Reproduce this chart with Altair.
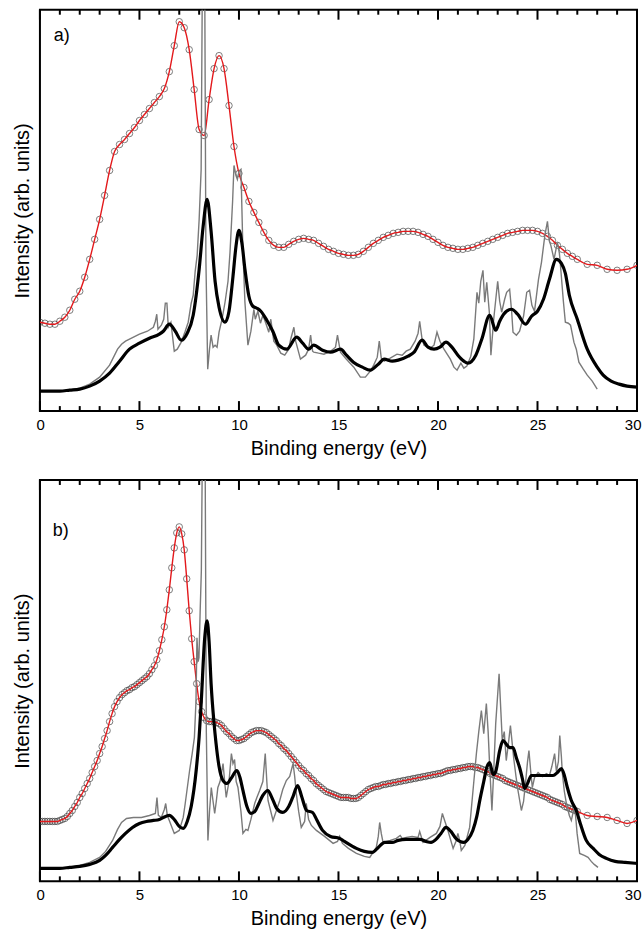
import altair as alt
import pandas as pd

FONT = "Liberation Sans"

# ---------------- data (intensity in arbitrary units) ----------------
major_ticks = [0, 5, 10, 15, 20, 25, 30]
minor_ticks = [1, 2, 3, 4, 6, 7, 8, 9, 11, 12, 13, 14, 16, 17, 18, 19,
               21, 22, 23, 24, 26, 27, 28, 29]

# panel a: experimental points (circles)
exp_a_e = [0.0, 0.25, 0.5, 0.75, 1.0, 1.25, 1.5, 1.75, 2.0, 2.25, 2.5, 2.75,
           3.0, 3.25, 3.5, 3.75, 4.0, 4.25, 4.5, 4.75, 5.0, 5.25, 5.5, 5.75,
           6.0, 6.25, 6.5, 6.75, 7.0, 7.25, 7.5, 7.75, 8.0, 8.25, 8.5, 8.75,
           9.0, 9.25, 9.5, 9.75, 10.0, 10.25, 10.5, 10.75, 11.0, 11.25, 11.5, 11.75,
           12.0, 12.25, 12.5, 12.75, 13.0, 13.25, 13.5, 13.75, 14.0, 14.25, 14.5, 14.75,
           15.0, 15.25, 15.5, 15.75, 16.0, 16.25, 16.5, 16.75, 17.0, 17.25, 17.5, 17.75,
           18.0, 18.25, 18.5, 18.75, 19.0, 19.25, 19.5, 19.75, 20.0, 20.25, 20.5, 20.75,
           21.0, 21.25, 21.5, 21.75, 22.0, 22.25, 22.5, 22.75, 23.0, 23.25, 23.5, 23.75,
           24.0, 24.25, 24.5, 24.75, 25.0, 25.25, 25.5, 25.75, 26.0, 26.25, 26.5, 26.75,
           27.0, 27.5, 28.0, 28.5, 29.0, 29.5, 30.0]
exp_a = [89, 88, 87, 87, 90, 94, 101, 112, 120, 134, 152, 172,
         192, 216, 241, 260, 267, 272, 278, 284, 291, 297, 303, 309,
         315, 323, 340, 366, 390, 384, 362, 322, 282, 276, 312, 343,
         356, 343, 306, 265, 238, 224, 210, 199, 189, 179, 171, 166,
         164, 164, 167, 170, 172, 173, 172, 171, 168, 165, 162, 160,
         158, 157, 156, 156, 157, 160, 164, 168, 171, 174, 176, 178,
         179, 180, 180, 180, 179, 177, 175, 172, 169, 166, 164, 163,
         162, 162, 163, 164, 166, 168, 170, 172, 174, 176, 178, 179,
         180, 181, 181, 181, 180, 178, 175, 171, 166, 162, 158, 155,
         152, 147, 146, 142, 141, 142, 146]

# panel b: experimental points (circles), denser sampling
exp_b_e = [0.0, 0.125, 0.25, 0.375, 0.5, 0.625, 0.75, 0.875,
           1.0, 1.125, 1.25, 1.375, 1.5, 1.625, 1.75, 1.875,
           2.0, 2.125, 2.25, 2.375, 2.5, 2.625, 2.75, 2.875,
           3.0, 3.125, 3.25, 3.375, 3.5, 3.625, 3.75, 3.875,
           4.0, 4.125, 4.25, 4.375, 4.5, 4.625, 4.75, 4.875,
           5.0, 5.125, 5.25, 5.375, 5.5, 5.625, 5.75, 5.875,
           6.0, 6.125, 6.25, 6.375, 6.5, 6.625, 6.75, 6.875,
           7.0, 7.125, 7.25, 7.375, 7.5, 7.625, 7.75, 7.875,
           8.0, 8.125, 8.25, 8.375, 8.5, 8.625, 8.75, 8.875,
           9.0, 9.125, 9.25, 9.375, 9.5, 9.625, 9.75, 9.875,
           10.0, 10.125, 10.25, 10.375, 10.5, 10.625, 10.75, 10.875,
           11.0, 11.125, 11.25, 11.375, 11.5, 11.625, 11.75, 11.875,
           12.0, 12.125, 12.25, 12.375, 12.5, 12.625, 12.75, 12.875,
           13.0, 13.125, 13.25, 13.375, 13.5, 13.625, 13.75, 13.875,
           14.0, 14.125, 14.25, 14.375, 14.5, 14.625, 14.75, 14.875,
           15.0, 15.125, 15.25, 15.375, 15.5, 15.625, 15.75, 15.875,
           16.0, 16.125, 16.25, 16.375, 16.5, 16.625, 16.75, 16.875,
           17.0, 17.125, 17.25, 17.375, 17.5, 17.625, 17.75, 17.875,
           18.0, 18.125, 18.25, 18.375, 18.5, 18.625, 18.75, 18.875,
           19.0, 19.125, 19.25, 19.375, 19.5, 19.625, 19.75, 19.875,
           20.0, 20.125, 20.25, 20.375, 20.5, 20.625, 20.75, 20.875,
           21.0, 21.125, 21.25, 21.375, 21.5, 21.625, 21.75, 21.875,
           22.0, 22.125, 22.25, 22.375, 22.5, 22.625, 22.75, 22.875,
           23.0, 23.125, 23.25, 23.375, 23.5, 23.625, 23.75, 23.875,
           24.0, 24.125, 24.25, 24.375, 24.5, 24.625, 24.75, 24.875,
           25.0, 25.125, 25.25, 25.375, 25.5, 25.625, 25.75, 25.875,
           26.0, 26.125, 26.25, 26.375, 26.5, 26.625, 26.75, 26.875,
           27.0, 27.5, 28.0, 28.5, 29.0, 29.5, 30.0]
exp_b = [60, 60, 60, 60, 60, 60, 60, 60,
         61, 62, 63, 65, 68, 71, 75, 79,
         84, 88, 93, 98, 103, 109, 115, 121,
         128, 135, 143, 151, 160, 168, 175, 180,
         184, 187, 189, 191, 192, 194, 195, 197,
         199, 201, 203, 205, 208, 212, 216, 222,
         231, 242, 255, 272, 292, 314, 334, 349,
         355, 348, 332, 303, 271, 243, 220, 198,
         180, 170, 164, 161, 160, 160, 160, 159,
         158, 156, 153, 150, 148, 145, 143, 141,
         141, 142, 143, 145, 147, 149, 150, 151,
         151, 151, 150, 149, 147, 145, 143, 141,
         138, 136, 133, 131, 128, 125, 122, 119,
         116, 113, 111, 108, 106, 103, 101, 98,
         96, 94, 92, 90, 89, 88, 87, 86,
         85, 84, 84, 84, 84, 83, 83, 83,
         84, 86, 88, 90, 92, 93, 94, 95,
         95, 96, 97, 97, 98, 98, 99, 99,
         100, 100, 101, 101, 102, 102, 103, 103,
         104, 104, 105, 105, 106, 106, 107, 107,
         108, 108, 109, 110, 111, 111, 112, 112,
         113, 113, 114, 114, 115, 115, 115, 114,
         114, 113, 112, 111, 110, 108, 107, 106,
         105, 104, 103, 101, 100, 99, 98, 97,
         96, 95, 94, 93, 92, 91, 90, 89,
         88, 87, 86, 85, 84, 82, 81, 80,
         79, 78, 77, 75, 74, 73, 72, 71,
         70, 66, 65, 64, 61, 58, 61]

# broadened calculation (thick black)
black_a_e = [0, 1.0, 1.5, 2.0, 2.5, 3.0, 3.5, 4.0, 4.5, 5.0, 5.5, 6.0, 6.2, 6.5, 6.8, 7.1,
             7.4, 7.7, 8.0, 8.2, 8.4, 8.6, 8.8, 9.0, 9.3, 9.5, 9.7, 9.85, 10.0, 10.15, 10.3,
             10.5, 10.7, 10.9, 11.1, 11.4, 11.7, 12.0, 12.4, 12.9, 13.2, 13.5, 13.75, 14.2,
             14.6, 15.1, 15.4, 15.75, 16.2, 16.6, 17.0, 17.3, 17.7, 18.0, 18.5, 18.8, 19.2,
             19.5, 19.8, 20.1, 20.4, 20.7, 21.0, 21.3, 21.5, 21.9, 22.2, 22.6, 22.9, 23.1,
             23.3, 23.7, 24.0, 24.4, 24.7, 25.0, 25.3, 25.6, 25.95, 26.2, 26.4, 26.6, 27.0,
             27.5, 28.0, 28.3, 28.7, 29.1, 29.5, 30.0]
black_a = [20, 20, 21, 22, 25, 30, 38, 50, 62, 68, 73, 77, 80, 87, 80, 71,
           78, 96, 142, 185, 212, 180, 130, 104, 89, 100, 135, 165, 181, 168, 142,
           115, 105, 103, 100, 91, 80, 66, 62, 74, 68, 62, 66, 61,
           59, 62, 56, 49, 44, 41, 47, 52, 50, 51, 55, 59, 71,
           64, 62, 64, 69, 64, 56, 50, 48, 56, 72, 96, 81, 90,
           97, 102, 97, 87, 95, 100, 112, 132, 152, 148, 138, 116, 92,
           62, 44, 36, 30, 27, 25, 24]

black_b_e = [0, 1.0, 1.5, 2.0, 2.5, 3.0, 3.3, 3.65, 4.0, 4.3, 4.65, 5.0, 5.35, 5.7, 6.0, 6.2,
             6.5, 6.75, 7.0, 7.2, 7.4, 7.6, 7.85, 8.0, 8.1, 8.28, 8.4, 8.5, 8.6, 8.75, 8.85,
             9.0, 9.2, 9.4, 9.6, 9.9, 10.05, 10.2, 10.4, 10.6, 10.8, 11.0, 11.2, 11.45, 11.65,
             11.9, 12.2, 12.5, 12.7, 12.95, 13.15, 13.4, 13.7, 13.9, 14.2, 14.6, 15.06, 15.3,
             15.9, 16.3, 16.7, 17.0, 17.32, 17.7, 18.0, 18.4, 19.1, 19.4, 19.65, 19.9, 20.15,
             20.4, 20.65, 20.9, 21.1, 21.3, 21.5, 21.75, 21.95, 22.1, 22.3, 22.45, 22.6, 22.77,
             22.9, 23.1, 23.27, 23.45, 23.6, 23.77, 23.95, 24.1, 24.25, 24.35, 24.5, 24.69,
             25.0, 25.4, 25.78, 26.0, 26.2, 26.35, 26.5, 26.7, 26.95, 27.15, 27.45, 27.8, 28.1,
             28.46, 28.9, 29.4, 30.0]
black_b = [13, 13, 14, 15, 17, 21, 26, 34, 42, 48, 54, 58, 60, 61, 62, 64,
           66, 62, 55, 53, 60, 75, 111, 145, 178, 244, 261, 240, 198, 158, 138,
           115, 101, 98, 103, 111, 104, 91, 75, 68, 70, 78, 86, 91, 84,
           73, 69, 75, 84, 96, 85, 71, 69, 62, 51, 45, 43, 40,
           33, 30, 29, 34, 39, 39, 41, 42, 42, 40, 39, 42, 48,
           54, 50, 43, 40, 39, 42, 51, 65, 81, 100, 114, 119, 107,
           110, 131, 141, 137, 134, 134, 123, 114, 102, 93, 98, 106,
           106, 106, 106, 109, 113, 106, 94, 81, 71, 58, 41, 33, 27,
           23, 20, 19, 18]

# raw calculation (thin grey)
grey_a_e = [0, 1.0, 1.5, 2.0, 2.5, 3.0, 3.5, 3.9, 4.1, 4.3, 4.6, 5.0, 5.4, 5.7, 5.8, 5.87,
            5.93, 6.1, 6.22, 6.3, 6.38, 6.45, 6.58, 6.75, 6.9, 7.1, 7.3, 7.45, 7.6, 7.7, 7.8,
            7.9, 8.0, 8.1, 8.16, 8.28, 8.34, 8.43, 8.52, 8.6, 8.7, 8.8, 8.9, 9.0, 9.15, 9.3,
            9.45, 9.55, 9.68, 9.75, 9.85, 9.92, 10.0, 10.1, 10.2, 10.3, 10.45, 10.6, 10.75,
            10.82, 10.95, 11.08, 11.2, 11.35, 11.5, 11.6, 11.75, 11.9, 12.1, 12.3, 12.5, 12.6,
            12.76, 12.85, 13.09, 13.35, 13.5, 13.6, 13.7, 13.76, 14.0, 14.27, 14.6, 14.85,
            14.95, 15.1, 15.4, 15.77, 16.1, 16.35, 16.6, 16.77, 16.95, 17.05, 17.15, 17.3,
            17.6, 17.94, 18.2, 18.4, 18.61, 18.85, 19.0, 19.08, 19.2, 19.3, 19.6, 19.8, 19.95,
            20.1, 20.3, 20.62, 20.8, 20.96, 21.15, 21.3, 21.45, 21.65, 21.8, 21.96, 22.05,
            22.15, 22.26, 22.35, 22.45, 22.58, 22.66, 22.8, 22.92, 23.0, 23.1, 23.2, 23.35,
            23.45, 23.6, 23.7, 23.77, 23.94, 24.1, 24.3, 24.46, 24.6, 24.72, 24.85, 25.05,
            25.2, 25.37, 25.5, 25.6, 25.67, 25.83, 26.0, 26.1, 26.17, 26.3, 26.4, 26.55,
            26.66, 26.83, 26.95, 27.08, 27.3, 27.5, 27.75, 28.0]
grey_a = [20, 20, 21, 23, 27, 34, 46, 62, 67, 70, 73, 77, 80, 84, 90, 97,
          82, 86, 92, 108, 108, 84, 89, 60, 62, 69, 80, 89, 108, 116, 140,
          156, 192, 242, 430, 430, 150, 42, 62, 76, 64, 66, 64, 79, 92, 109,
          130, 159, 210, 246, 236, 232, 240, 242, 160, 109, 66, 80, 102,
          92, 100, 88, 96, 88, 79, 92, 70, 66, 58, 56, 62, 72,
          84, 70, 52, 56, 62, 76, 60, 59, 58, 57, 60, 64,
          76, 59, 52, 44, 34, 34, 40, 46, 54, 70, 53, 50,
          53, 57, 56, 60, 62, 70, 78, 90, 72, 66, 63, 66, 79,
          70, 62, 52, 44, 41, 48, 43, 45, 55, 72, 119, 108,
          130, 141, 109, 129, 99, 56, 92, 115, 130, 110, 99, 112,
          119, 122, 100, 79, 76, 80, 95, 119, 121, 106, 100, 132,
          149, 176, 190, 170, 166, 152, 169, 158, 142, 110, 89, 88,
          86, 69, 62, 49, 42, 36, 30, 22]

grey_b_e = [0, 1.0, 1.5, 2.0, 2.5, 3.0, 3.3, 3.65, 3.9, 4.1, 4.35, 4.7, 5.1, 5.5, 5.8, 5.88,
            5.95, 6.1, 6.25, 6.32, 6.4, 6.5, 6.75, 7.0, 7.2, 7.3, 7.52, 7.65, 7.76, 7.84, 7.89,
            7.95, 7.99, 8.05, 8.11, 8.16, 8.3, 8.36, 8.44, 8.52, 8.61, 8.7, 8.78, 8.86, 8.94,
            9.05, 9.2, 9.3, 9.36, 9.5, 9.62, 9.7, 9.78, 9.86, 9.95, 10.1, 10.2, 10.35, 10.45,
            10.6, 10.79, 10.9, 11.04, 11.2, 11.32, 11.4, 11.46, 11.6, 11.71, 11.9, 12.05, 12.2,
            12.38, 12.55, 12.72, 12.8, 12.88, 13.0, 13.13, 13.3, 13.38, 13.5, 13.64, 13.89,
            14.3, 14.73, 14.95, 15.06, 15.2, 15.5, 15.9, 16.3, 16.57, 16.9, 17.0, 17.07, 17.15,
            17.24, 17.6, 17.91, 18.1, 18.2, 18.41, 18.7, 19.0, 19.08, 19.25, 19.6, 19.92, 20.1,
            20.22, 20.35, 20.5, 20.76, 20.9, 21.0, 21.1, 21.17, 21.35, 21.59, 21.76, 21.93,
            22.05, 22.18, 22.3, 22.43, 22.52, 22.6, 22.71, 22.8, 22.9, 23.07, 23.16, 23.23,
            23.33, 23.43, 23.55, 23.64, 23.72, 23.8, 23.92, 24.02, 24.19, 24.3, 24.41, 24.5,
            24.57, 24.66, 24.74, 24.85, 25.03, 25.25, 25.45, 25.6, 25.72, 25.86, 25.95, 26.05,
            26.12, 26.2, 26.25, 26.35, 26.45, 26.6, 26.7, 26.8, 26.87, 26.94, 26.99, 27.12,
            27.35, 27.54, 27.7, 27.85, 28.04]
grey_b = [13, 13, 14, 16, 19, 24, 30, 41, 52, 59, 63, 64, 64, 66, 68, 84,
          66, 64, 72, 78, 66, 61, 48, 51, 64, 78, 111, 128, 144, 180, 244,
          220, 224, 270, 311, 430, 430, 150, 41, 70, 94, 80, 68, 80, 94,
          100, 118, 96, 84, 100, 128, 118, 122, 100, 94, 70, 48, 52, 51,
          62, 78, 84, 91, 100, 128, 100, 81, 70, 61, 72, 81, 92,
          101, 105, 118, 105, 88, 70, 54, 60, 78, 62, 56, 51,
          45, 38, 40, 45, 38, 33, 28, 25, 24, 34, 45, 59, 48,
          39, 41, 43, 46, 43, 44, 45, 44, 50, 39, 44, 48, 55,
          68, 60, 51, 33, 40, 48, 40, 31, 36, 54, 91, 128,
          150, 171, 148, 178, 150, 114, 71, 110, 158, 208, 170, 141,
          150, 121, 140, 156, 140, 124, 105, 91, 71, 80, 101, 120,
          131, 110, 94, 104, 109, 105, 108, 106, 115, 128, 110, 120,
          146, 125, 108, 90, 78, 66, 61, 70, 74, 60, 48, 28,
          26, 24, 20, 17, 14]

panel_labels = ["a)", "b)"]
panel_label_e = [0.7, 0.65]
panel_label_v = [371, 346]

# ---------------- chart ----------------
x_scale = alt.Scale(domain=[0, 30], nice=False)
y_scale = alt.Scale(domain=[0, 402], nice=False)

x_axis = alt.Axis(values=major_ticks, ticks=False, domain=False, grid=False,
                  labelFontSize=15, labelPadding=6, labelFont=FONT, labelColor="black",
                  labelFlush=True, labelFlushOffset=4, format="d",
                  title="Binding energy (eV)", titleFontSize=20, titleFont=FONT,
                  titleFontWeight="normal", titleColor="black", titlePadding=6)
y_axis = alt.Axis(labels=False, ticks=False, domain=False, grid=False,
                  title="Intensity (arb. units)", titleFontSize=20, titleFont=FONT,
                  titleFontWeight="normal", titleColor="black", titlePadding=7)

X = alt.X("e:Q", scale=x_scale, axis=x_axis)
Y = alt.Y("v:Q", scale=y_scale, axis=y_axis)

W, H = 598, 402


def panel(exp_e, exp_vals, blk_e, blk_v, gry_e, gry_v, idx):
    exp_df = pd.DataFrame({"e": exp_e, "v": exp_vals})
    blk_df = pd.DataFrame({"e": blk_e, "v": blk_v})
    gry_df = pd.DataFrame({"e": gry_e, "v": gry_v})
    maj_df = pd.DataFrame({"e": major_ticks})
    min_df = pd.DataFrame({"e": minor_ticks})
    lab_df = pd.DataFrame({"e": [panel_label_e[idx]], "v": [panel_label_v[idx]],
                           "t": [panel_labels[idx]]})

    circles = alt.Chart(exp_df).mark_point(shape="circle", filled=False, size=42,
                                           stroke="#333333", strokeWidth=0.9,
                                           clip=True).encode(x=X, y=Y)
    red = alt.Chart(exp_df).mark_line(color="#e3191c", strokeWidth=1.4,
                                      interpolate="monotone", clip=True).encode(x=X, y=Y)
    grey = alt.Chart(gry_df).mark_line(color="#7a7a7a", strokeWidth=1.4,
                                       clip=True).encode(x=X, y=Y)
    black = alt.Chart(blk_df).mark_line(color="black", strokeWidth=3.2,
                                        interpolate="monotone", clip=True).encode(x=X, y=Y)
    bmaj = alt.Chart(maj_df).mark_rule(color="black", strokeWidth=2).encode(
        x=X, y=alt.value(H), y2=alt.value(H - 10))
    bmin = alt.Chart(min_df).mark_rule(color="black", strokeWidth=2).encode(
        x=X, y=alt.value(H), y2=alt.value(H - 5))
    tmaj = alt.Chart(maj_df).mark_rule(color="black", strokeWidth=2).encode(
        x=X, y=alt.value(0), y2=alt.value(10))
    tmin = alt.Chart(min_df).mark_rule(color="black", strokeWidth=2).encode(
        x=X, y=alt.value(0), y2=alt.value(5))
    lab = alt.Chart(lab_df).mark_text(align="left", baseline="alphabetic", fontSize=18,
                                      font=FONT, color="black").encode(x=X, y=Y, text="t:N")
    return alt.layer(circles, red, grey, black, bmaj, bmin, tmaj, tmin, lab).properties(
        width=W, height=H)


top = panel(exp_a_e, exp_a, black_a_e, black_a, grey_a_e, grey_a, 0)
bottom = panel(exp_b_e, exp_b, black_b_e, black_b, grey_b_e, grey_b, 1)

chart = alt.vconcat(top, bottom, spacing=19).properties(
    padding={"left": 12, "top": 7, "right": 0, "bottom": 2},
    background="white",
).configure_view(stroke="black", strokeWidth=2)

chart.save("out.html", embed_options={"renderer": "svg", "actions": False})
